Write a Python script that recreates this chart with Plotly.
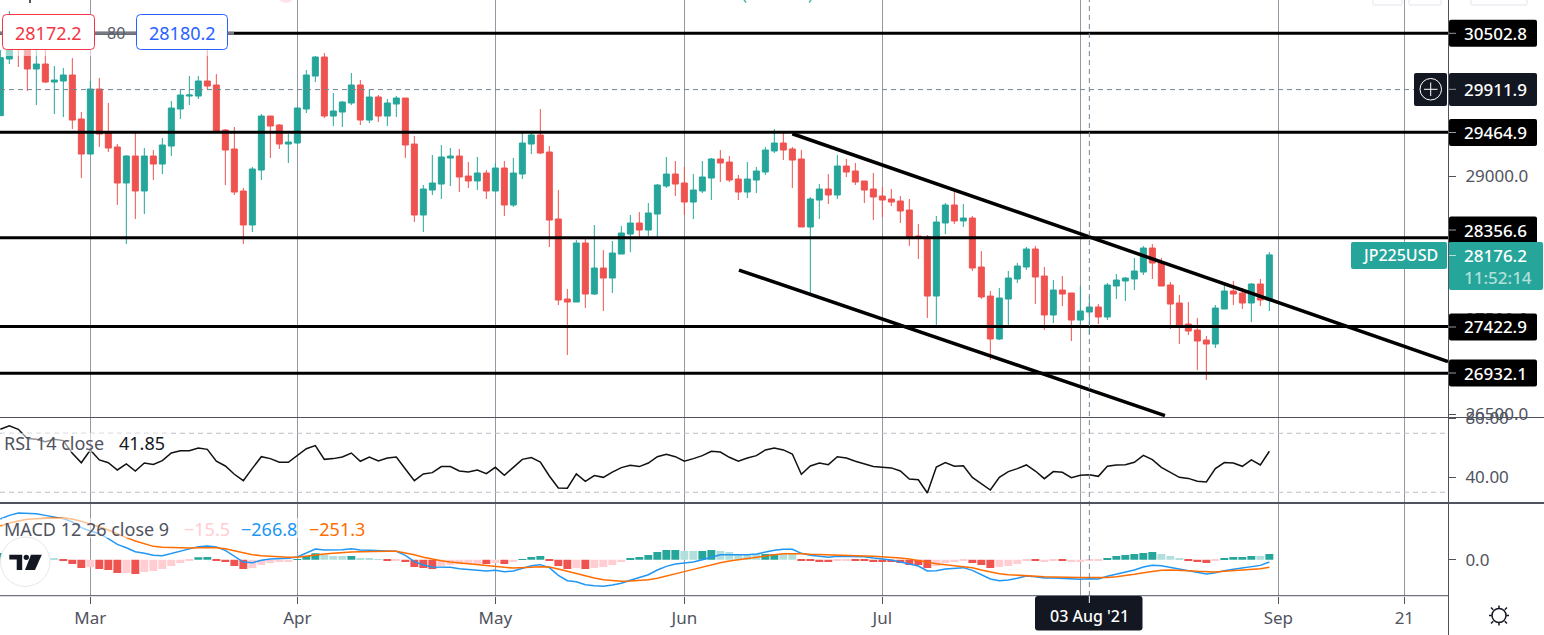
import plotly.graph_objects as go

W, H = 1544, 635

# Weekday bars, 15 Feb 2021 (index 0) to 31 Aug 2021 (index 141)
opens = [29638,30233,30432,30397,30128,30180,29991,30002,30065,29603,29235,29918,29456,29309,28931,29214,28847,29214,29130,29319,
29708,29844,29844,30002,29960,29487,29288,28847,28490,29067,29634,29540,29340,29351,29708,30054,30254,29634,29676,29771,
29960,29592,29834,29634,29760,29823,29340,28595,28857,28920,29193,29214,29004,28952,29036,28847,29088,28700,29025,29340,
29435,29256,28553,27713,27681,28301,27765,28038,27933,28185,28395,28511,28437,28605,28899,29025,28931,28731,28847,28983,
29183,29151,28973,28836,28962,29046,29267,29351,29288,29183,28469,28752,28868,28805,29109,29057,28952,28868,28794,28763,
28742,28647,28374,28364,27744,28511,28700,28532,28563,28049,27744,27293,27713,27923,28049,28238,27954,27545,27807,27776,
27492,27576,27629,27524,27849,27902,27923,27996,28248,28101,27860,27671,27450,27387,27282,27240,27608,27797,27776,27671,
27870,27702]
highs = [30327,30736,30502,30432,30327,30327,30159,30138,30243,29676,30002,30033,29771,29340,29225,29477,29298,29277,29403,29792,
29918,30054,30054,30327,30075,29498,29519,28878,29099,29655,29634,29550,29445,29732,30117,30264,30296,29876,29792,30086,
30012,29918,29855,29813,29844,29823,29424,28910,29225,29330,29298,29288,29151,29204,29067,29137,29162,29193,29456,29466,
29708,29319,28857,27818,28332,28353,28490,28227,28322,28479,28595,28626,28721,28920,29204,29162,29099,29025,29162,29193,
29277,29214,29015,29151,29099,29309,29498,29456,29309,29277,28784,28920,29025,29225,29183,29141,28952,29036,28889,28868,
28794,28763,28500,28385,28584,28721,28868,28710,28584,28217,27797,27828,28007,28091,28259,28269,28049,27912,27954,27776,
27849,27744,27660,27881,27975,27944,28143,28269,28290,28143,27891,27755,27681,27513,27324,27650,27860,27902,27828,27881,
27923,28206]
lows = [29638,30180,30149,29897,29750,29981,29655,29624,29498,28983,29235,29309,29256,28700,28290,28553,28605,28962,29025,29214,
29603,29750,29813,29907,29477,28910,28805,28290,28416,28962,29193,29288,29141,29340,29666,29991,29613,29529,29519,29750,
29540,29561,29571,29529,29624,29193,28521,28416,28805,28763,28899,28836,28878,28857,28763,28847,28584,28679,28973,29235,
29235,28259,27650,27125,27681,27618,27755,27587,27776,28185,28206,28343,28374,28353,28878,28794,28595,28553,28826,28752,
28941,28941,28752,28773,28826,29015,29246,29172,28878,28469,27776,28553,28710,28763,28994,28910,28721,28542,28574,28689,
28511,28269,28133,27513,27408,28395,28500,28469,28007,27713,27072,27282,27440,27881,28017,27660,27387,27461,27639,27272,
27440,27345,27450,27492,27713,27692,27807,27965,27923,27849,27398,27240,27335,26967,26862,27198,27608,27650,27608,27471,
27639,27587]
closes = [30247,30327,30334,30128,30180,29991,30012,30065,29592,29235,29918,29445,29298,28931,29214,28847,29214,29130,29330,29718,
29855,29855,30002,29949,29477,29277,28836,28490,29078,29634,29529,29340,29361,29718,30065,30254,29634,29687,29781,29960,
29592,29834,29634,29771,29823,29330,28595,28868,28931,29204,29214,28994,28952,29036,28847,29088,28700,29036,29351,29435,
29246,28542,27702,27681,28301,27765,28038,27933,28196,28406,28511,28437,28616,28910,29025,28920,28731,28857,28994,29183,
29141,28962,28836,28973,29057,29277,29351,29277,29172,28469,28763,28868,28805,29109,29046,28941,28857,28784,28752,28731,
28637,28364,28353,27744,28521,28700,28532,28563,28038,27734,27293,27723,27933,28059,28238,27944,27545,27807,27765,27492,
27587,27629,27524,27860,27912,27933,28007,28248,28091,27849,27660,27440,27377,27272,27240,27618,27797,27765,27671,27870,
27702,28176]

rsi = [72.7,75.1,72.7,66.5,65.9,64.3,65.9,65.0,56.4,50.0,58.6,51.9,50.0,45.1,49.2,44.4,49.8,48.9,51.4,56.6,
58.2,58.2,60.0,59.1,51.0,47.8,42.2,37.9,46.2,54.1,52.8,50.3,50.3,55.2,59.5,61.6,52.3,52.8,53.9,56.6,
51.0,53.9,51.2,53.2,53.9,45.8,37.9,42.4,43.3,47.4,47.4,44.4,43.7,45.1,42.6,46.9,41.5,46.9,52.3,53.5,
50.5,41.0,32.9,32.7,42.4,37.4,41.3,40.1,43.7,46.7,48.3,47.4,49.8,54.1,55.7,54.1,51.0,52.8,54.8,57.8,
57.3,53.7,51.0,53.2,54.8,58.7,60.0,58.7,55.9,42.2,47.8,49.8,48.7,54.1,53.2,51.0,49.2,47.4,46.9,46.5,
44.4,39.0,38.5,29.5,47.1,50.1,47.6,48.0,40.1,36.1,31.5,40.1,44.0,46.0,48.5,44.4,39.2,44.0,43.5,39.9,
41.5,41.85,40.8,47.6,48.5,48.7,50.3,55.0,52.1,46.9,43.7,40.1,39.4,37.4,37.0,46.0,50.1,49.8,47.6,51.9,
48.5,57.8]
rsi_upper, rsi_lower = 70, 30

macd = [571,622,655,655,646,622,594,576,529,449,402,365,295,215,168,112,89,61,56,89,
126,159,183,192,178,131,47,-33,-42,-9,9,14,19,37,98,150,136,136,140,154,
136,131,122,122,117,61,-28,-75,-103,-103,-108,-126,-140,-154,-159,-150,-168,-159,-126,-84,
-70,-112,-220,-295,-309,-351,-365,-374,-356,-332,-290,-253,-211,-145,-94,-61,-47,-33,0,37,
70,70,66,70,80,108,131,145,145,89,61,47,33,47,47,47,42,23,9,-5,
-33,-56,-89,-159,-154,-131,-117,-112,-150,-206,-271,-295,-285,-262,-229,-239,-257,-257,-262,-271,
-276,-266.8,-271,-234,-206,-178,-145,-103,-80,-84,-108,-136,-159,-183,-201,-183,-154,-136,-117,-94,
-80,-33]
signal = [473,515,543,566,576,585,585,580,571,538,505,463,417,360,309,262,225,187,173,168,
164,164,168,168,168,154,126,94,70,56,47,42,33,33,51,66,80,89,103,108,
112,117,117,117,117,98,70,33,5,-14,-33,-47,-56,-70,-89,-98,-108,-117,-117,-108,
-98,-103,-131,-164,-197,-229,-257,-281,-295,-304,-300,-295,-281,-262,-234,-201,-168,-136,-103,-70,
-42,-19,0,19,33,56,70,84,89,84,75,70,61,61,56,51,51,47,42,33,
23,9,-14,-42,-56,-70,-84,-94,-112,-145,-173,-197,-211,-220,-220,-229,-239,-243,-248,-248,
-250,-251.3,-252,-250,-239,-225,-206,-183,-164,-150,-145,-145,-154,-164,-173,-173,-164,-154,-150,-140,
-126,-108]
hist = [94,107,112,89,70,19,19,-5,-61,-117,-108,-131,-145,-187,-187,-201,-173,-159,-131,-89,
-47,-19,33,37,-5,-33,-89,-131,-117,-75,-47,-33,-33,9,51,89,70,51,51,51,
23,23,9,-9,-9,-33,-103,-117,-131,-89,-75,-66,-66,-66,-61,-47,-61,-33,9,37,
51,-5,-89,-131,-117,-131,-117,-103,-75,-33,23,37,66,108,136,136,122,122,122,136,
122,108,80,80,80,80,80,80,80,-5,-19,-33,-33,-19,-5,-5,-19,-33,-33,-33,
-47,-75,-75,-117,-89,-47,-33,-19,-47,-75,-117,-103,-89,-61,-19,-19,-33,-19,-19,-33,
-33,-15.5,-19,23,51,66,80,94,108,80,51,23,-5,-33,-47,-19,23,37,37,51,
51,80]
hist_shade = list("TTTLLLLRRRPRRRPRPPPP"
                  "PPTTRRRRPPPPPTTTLLLT"
                  "LLLRPRRRRPPPPPRPRPTT"
                  "TRRRPRPPPPTTTTTTLLTT"
                  "LLLLLTTLLRRRRPPRRRRR"
                  "RRRRPPPPRRRPPPPRPPRP"
                  "PPPTTTTTTLLLRRRPTTTT"
                  "LT")

# the August month line stays, its label sits under the crosshair date label
tick_pos = [10, 33, 55, 76, 98, 120, 142, 156]
tick_text = ["Mar", "Apr", "May", "Jun", "Jul", "", "Sep", "21"]
price_ticks = [26500, 27500, 29000]
rsi_ticks = [80, 40]
macd_ticks = [0]
levels = [30502.8, 29464.9, 28356.6, 27422.9, 26932.1]
level_labels = ["30502.8", "29464.9", "28356.6", "27422.9", "26932.1"]
cross_price = 29911.9
cross_bar = 121
upper_channel_x, upper_channel_y = [88.0, 160.85], [29448, 27056]
lower_channel_x, lower_channel_y = [82.07, 129.4], [28017, 26489]

UP, DOWN = "#26a69a", "#ef5350"
shade = {"T": "#26a69a", "L": "#b2dfdb", "R": "#ef5350", "P": "#ffcdd2"}
AXC, TXT = "#50535e", "#50535e"
FONT = "Noto Sans"
XR = [-0.037, 160.85]
PR = [26468.7, 30852.45]
RR = [22.71, 80.34]
MR = [-503, 781.6]


def fx(x): return x / W
def fy(y): return 1 - y / H


n = len(closes)
bars = list(range(n))
fig = go.Figure()
fig.add_trace(go.Candlestick(x=bars, open=opens, high=highs, low=lows, close=closes, yaxis="y", xaxis="x",
                             increasing=dict(line=dict(color=UP, width=1), fillcolor=UP),
                             decreasing=dict(line=dict(color=DOWN, width=1), fillcolor=DOWN),
                             whiskerwidth=0, showlegend=False, hoverinfo="skip"))
line_style = dict(color="black", width=3)
for lv in levels:
    fig.add_trace(go.Scatter(x=XR, y=[lv, lv], mode="lines", line=line_style, yaxis="y", showlegend=False, hoverinfo="skip"))
fig.add_trace(go.Scatter(x=upper_channel_x, y=upper_channel_y, mode="lines", line=dict(color="black", width=3.5), yaxis="y", showlegend=False, hoverinfo="skip"))
fig.add_trace(go.Scatter(x=lower_channel_x, y=lower_channel_y, mode="lines", line=dict(color="black", width=3.5), yaxis="y", showlegend=False, hoverinfo="skip"))
fig.add_trace(go.Scatter(x=XR, y=[cross_price, cross_price], mode="lines", line=dict(color="#758696", width=1, dash="5px,4px"), yaxis="y", showlegend=False, hoverinfo="skip"))

for b in (rsi_upper, rsi_lower):
    fig.add_trace(go.Scatter(x=XR, y=[b, b], mode="lines", line=dict(color="#bdbfc6", width=1, dash="5px,4px"), yaxis="y2", showlegend=False, hoverinfo="skip"))
fig.add_trace(go.Scatter(x=bars, y=rsi, mode="lines", line=dict(color="#111111", width=1.5), yaxis="y2", showlegend=False, hoverinfo="skip"))

fig.add_trace(go.Bar(x=bars, y=hist, marker=dict(color=[shade[c] for c in hist_shade], line=dict(width=0)), yaxis="y3", showlegend=False, hoverinfo="skip"))
fig.add_trace(go.Scatter(x=bars, y=macd, mode="lines", line=dict(color="#2196f3", width=1.5), yaxis="y3", showlegend=False, hoverinfo="skip"))
fig.add_trace(go.Scatter(x=bars, y=signal, mode="lines", line=dict(color="#ff6d00", width=1.5), yaxis="y3", showlegend=False, hoverinfo="skip"))

shapes = []
ann = []


def rect(x0, y0, x1, y1, fill, line=None, r=0, lw=1):
    if r:
        p = (f"M{fx(x0+r)},{fy(y0)}L{fx(x1-r)},{fy(y0)}Q{fx(x1)},{fy(y0)} {fx(x1)},{fy(y0+r)}"
             f"L{fx(x1)},{fy(y1-r)}Q{fx(x1)},{fy(y1)} {fx(x1-r)},{fy(y1)}"
             f"L{fx(x0+r)},{fy(y1)}Q{fx(x0)},{fy(y1)} {fx(x0)},{fy(y1-r)}"
             f"L{fx(x0)},{fy(y0+r)}Q{fx(x0)},{fy(y0)} {fx(x0+r)},{fy(y0)}Z")
        shapes.append(dict(type="path", path=p, xref="paper", yref="paper", fillcolor=fill,
                           line=dict(color=line or fill, width=lw if line else 0), layer="above"))
    else:
        shapes.append(dict(type="rect", x0=fx(x0), x1=fx(x1), y0=fy(y0), y1=fy(y1), xref="paper", yref="paper",
                           fillcolor=fill, line=dict(width=0), layer="above"))


def seg(x0, y0, x1, y1, color, w=1, dash=None):
    shapes.append(dict(type="line", x0=fx(x0), x1=fx(x1), y0=fy(y0), y1=fy(y1), xref="paper", yref="paper",
                       line=dict(color=color, width=w, dash=dash) if dash else dict(color=color, width=w), layer="above"))


def text(x, y, s, color, size=17, anchor="left", weight=400):
    ann.append(dict(x=fx(x), y=fy(y), xref="paper", yref="paper", text=s, showarrow=False, xanchor=anchor, yanchor="middle",
                    font=dict(family=FONT, size=size, color=color, weight=weight), xshift=0, yshift=0, borderpad=0, borderwidth=0))


# crosshair vertical
cross_x = 0.33 + 9 * cross_bar
shapes.append(dict(type="line", x0=cross_bar, x1=cross_bar, y0=fy(596), y1=1, xref="x", yref="paper",
                   line=dict(color="#758696", width=1, dash="5px,4px"), layer="above"))
# pane separators and axes
seg(0, 417.5, W, 417.5, AXC, 1)
seg(0, 503, W, 503, AXC, 2)
seg(0, 595.7, 1448, 595.7, AXC, 1)
seg(1448.5, 0, 1448.5, H, AXC, 1)

# the selected horizontal line's grey start
seg(0, 33.3, 234, 33.3, "#787b86", 3)
# order boxes
rect(2.5, 14.5, 94.5, 49.5, "#ffffff", "#f23645", r=4)
rect(136.5, 14.5, 227.5, 49.5, "#ffffff", "#2962ff", r=4)
rect(2, 50, 95, 56, "rgba(255,255,255,0.55)")
rect(136, 50, 228, 56, "rgba(255,255,255,0.55)")
text(48.5, 32.5, "28172.2", "#f23645", 18, "center")
text(115.5, 32.5, "80", "#5d606b", 16, "center")
text(182, 32.5, "28180.2", "#2962ff", 18, "center")

# price labels
label_mid = [33.3, 132.5, 230, 327, 373]
for mid, s in zip(label_mid, level_labels):
    rect(1449, mid - 13.5, 1537, mid + 13.5, "#000000", r=2)
    seg(1449, mid, 1456, mid, "#9598a1", 1)
    text(1464, mid, s, "#ffffff", 17, weight=500)

# crosshair price label with plus button
rect(1414, 73, 1447, 106, "#131722", r=2)
rect(1449, 73, 1537, 106, "#131722", r=2)
seg(1449, 89.3, 1456, 89.3, "#9598a1", 1)
text(1464, 89.3, "29911.9", "#ffffff", 17, weight=500)
shapes.append(dict(type="circle", x0=fx(1420), x1=fx(1441.5), y0=fy(78.5), y1=fy(100), xref="paper", yref="paper",
                   line=dict(color="#ffffff", width=1), layer="above"))
seg(1424, 89.3, 1437.5, 89.3, "#ffffff", 1)
seg(1430.7, 82.5, 1430.7, 96, "#ffffff", 1)

# last price label
rect(1351, 242, 1447, 269, UP, r=2)
rect(1449, 242, 1543, 290, UP, r=2)
seg(1449, 255.5, 1456, 255.5, "#b2dfdb", 1)
text(1400, 255.5, "JP225USD", "#ffffff", 16, "center", 500)
text(1464, 255.5, "28176.2", "#ffffff", 17, weight=500)
text(1464, 277, "11:52:14", "#b2dfdb", 17, weight=500)

# date label
rect(1035, 596, 1142.5, 630.5, "#131722", r=3)
seg(cross_x, 596, cross_x, 603, "#ffffff", 1)
text(1089, 616, "03 Aug '21", "#ffffff", 16, "center", 500)

# indicator legends
rect(2, 433, 170, 452, "rgba(255,255,255,0.55)")
rect(2, 518, 370, 538, "rgba(255,255,255,0.55)")
text(4, 442.5, "RSI 14 close", "#50535e", 18)
text(119, 442.5, "41.85", "#131722", 18)
text(4, 528.5, "MACD 12 26 close 9", "#50535e", 18)
text(184, 528.5, "\u221215.5", "#ffcdd2", 18)
text(241, 528.5, "\u2212266.8", "#2196f3", 18)
text(309, 528.5, "\u2212251.3", "#ff6d00", 18)

# TradingView badge
shapes.append(dict(type="circle", x0=fx(0.5), x1=fx(50), y0=fy(537), y1=fy(586.5), xref="paper", yref="paper",
                   fillcolor="#ffffff", line=dict(color="#e8e8ea", width=1), layer="above"))
glyph = [[(9.3, 554.7), (22.2, 554.7), (22.2, 570), (16.7, 570), (16.7, 559.5), (9.3, 559.5)],
         [(31, 554.7), (41.8, 554.7), (35, 570), (25, 570)]]
for g in glyph:
    p = "M" + "L".join(f"{fx(a)},{fy(b)}" for a, b in g) + "Z"
    shapes.append(dict(type="path", path=p, xref="paper", yref="paper", fillcolor="#131722", line=dict(width=0), layer="above"))
shapes.append(dict(type="circle", x0=fx(23.6), x1=fx(29), y0=fy(554.7), y1=fy(560), xref="paper", yref="paper",
                   fillcolor="#131722", line=dict(width=0), layer="above"))

# settings gear
gx, gy = 1499, 615.5
shapes.append(dict(type="circle", x0=fx(gx - 7), x1=fx(gx + 7), y0=fy(gy - 7), y1=fy(gy + 7), xref="paper", yref="paper",
                   line=dict(color="#131722", width=1.5), layer="above"))
for dx, dy in [(0, -10), (0, 10), (-10, 0), (10, 0), (-8, -8), (8, -8), (-8, 8), (8, 8)]:
    seg(gx + dx * 0.72, gy + dy * 0.72, gx + dx, gy + dy, "#131722", 1.5)

# clipped bits of the toolbar at the top edge
for a, b in [(1373, 1402), (1409, 1441), (1471, 1527)]:
    seg(a, 5, b, 5, "#e0e3eb", 1)
    seg(a, 0, a, 4, "#e0e3eb", 1)
    seg(b, 0, b, 4, "#e0e3eb", 1)
seg(30, 0, 30, 3, "#50535e", 2)
seg(744, 0, 746, 2.5, "#4db6ac", 1.5)
seg(811, 0, 809, 2.5, "#4db6ac", 1.5)
shapes.append(dict(type="circle", x0=fx(277), x1=fx(295), y0=fy(-14), y1=fy(3), xref="paper", yref="paper",
                   fillcolor="#fce4ec", line=dict(width=0), layer="above"))

axis_common = dict(showgrid=False, zeroline=False, side="right", anchor="x", ticks="outside", ticklen=7, tickcolor=AXC,
                   tickfont=dict(family=FONT, size=17, color=TXT), showline=False, fixedrange=True, ticklabelstandoff=6)

fig.update_layout(
    width=W, height=H, margin=dict(l=0, r=0, t=0, b=0, pad=0, autoexpand=False), autosize=False,
    paper_bgcolor="#ffffff", plot_bgcolor="rgba(0,0,0,0)", showlegend=False, bargap=0.12, boxgap=0.05, boxgroupgap=0.3,
    xaxis=dict(domain=[0, 1448 / W], range=XR, anchor="y3", rangeslider=dict(visible=False), showgrid=True, gridcolor="#9598a1", gridwidth=1,
               zeroline=False, tickmode="array", tickvals=tick_pos, ticktext=tick_text, ticks="outside", ticklen=7, tickcolor=AXC,
               tickfont=dict(family=FONT, size=17, color=TXT), showline=False, fixedrange=True),
    yaxis=dict(domain=[fy(417.5), 1], range=PR, tickmode="array", tickvals=price_ticks, ticktext=[f"{t:.1f}" for t in price_ticks], **axis_common),
    yaxis2=dict(domain=[fy(503), fy(418)], range=RR, tickmode="array", tickvals=rsi_ticks, ticktext=[f"{t:.2f}" for t in rsi_ticks], **axis_common),
    yaxis3=dict(domain=[fy(595.5), fy(504)], range=MR, tickmode="array", tickvals=macd_ticks, ticktext=["0.0"], **axis_common),
    shapes=shapes, annotations=ann,
)
fig.write_html("out.html", config=dict(displayModeBar=False),
               post_script="document.body.style.margin='0';document.body.style.overflow='hidden';")
